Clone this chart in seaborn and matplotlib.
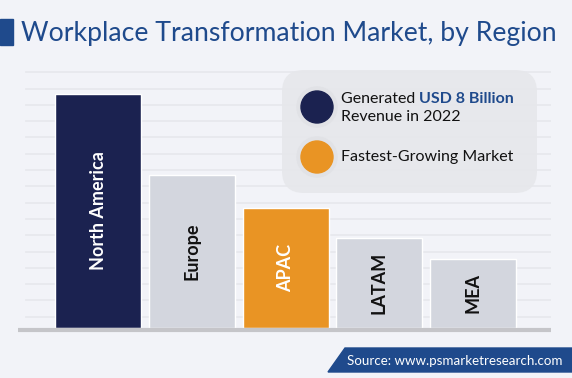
import numpy as np
import pandas as pd
import seaborn as sns
import matplotlib.pyplot as plt
from matplotlib.patches import FancyBboxPatch, Circle, Polygon, Rectangle

regions = ["North America", "Europe", "APAC", "LATAM", "MEA"]
values = [8.0, 5.24, 4.09, 3.07, 2.37]
bar_colors = ["#1B2250", "#D3D6DE", "#E99424", "#D3D6DE", "#D3D6DE"]
label_colors = ["white", "#111111", "white", "#111111", "#111111"]

bg = "#F2F3F8"
blue = "#1F4A8C"

sns.set_theme(style="white")
plt.rcParams['font.family'] = ['Lato', 'DejaVu Sans']

df = pd.DataFrame({"region": regions, "value": values})

fig = plt.figure(figsize=(5.72, 3.78), dpi=100, facecolor=bg)

# bar area: pixels x 18..551, y 60..333
ax = fig.add_axes([18 / 572, 1 - 333 / 378, (551 - 18) / 572, (333 - 60) / 378])
ax.set_facecolor(bg)
sns.barplot(data=df, x="region", y="value", hue="region", palette=bar_colors,
            width=0.917, saturation=1, legend=False, ax=ax, zorder=3)
ax.set_xlim(-0.853, 4.83)
ax.set_ylim(-0.171, 9.16)
ax.set_yticks(-0.171 + 0.557 * np.arange(1, 17))
ax.yaxis.grid(True, color="#E6E7EC", linewidth=1.2)
ax.set_axisbelow(True)
ax.axhline(-0.068, color="#C5C5C9", linewidth=3, zorder=4)
for s in ax.spines.values():
    s.set_visible(False)
ax.set_xticks([])
ax.tick_params(left=False, labelleft=False)
ax.set_xlabel("")
ax.set_ylabel("")

for i, (name, v) in enumerate(zip(regions, values)):
    ax.text(i, v / 2, name, rotation=90, ha="center", va="center",
            fontsize=13, fontweight="bold", color=label_colors[i], zorder=5)

# decoration layer in pixel coordinates
deco = fig.add_axes([0, 0, 1, 1], zorder=10)
deco.set_xlim(0, 572)
deco.set_ylim(378, 0)
deco.axis("off")
deco.patch.set_visible(False)

# hide gridline start left of x=24
deco.add_patch(Rectangle((0, 60), 24, 266, color=bg))

deco.add_patch(Rectangle((0, 19), 13, 26, color=blue))
deco.text(21, 33, "Workplace Transformation Market, by Region", color=blue,
          fontsize=19.2, va="center", ha="left")

deco.add_patch(FancyBboxPatch((282, 70), 255, 123,
                              boxstyle="round,pad=0,rounding_size=22",
                              facecolor="#E6E7EB", edgecolor="none", alpha=0.9))
for cy, col in [(107, "#1B2250"), (157, "#E99424")]:
    deco.add_patch(Circle((317, cy), 20, color="#E1E2E6"))
    deco.add_patch(Circle((317, cy), 16, color=col))

t1 = deco.text(341, 99, "Generated ", fontsize=11.5, color="#111111",
               va="center", ha="left")
deco.annotate("USD 8 Billion", xy=(1, 0), xycoords=t1, fontsize=11.5,
              fontweight="bold", color=blue, va="bottom", ha="left")
deco.text(341, 117, "Revenue in 2022", fontsize=11.5, color="#111111",
          va="center", ha="left")
deco.text(341, 157, "Fastest-Growing Market", fontsize=11.5, color="#111111",
          va="center", ha="left")

deco.add_patch(Polygon([(328, 372), (345, 348), (572, 348), (572, 372)],
                       closed=True, color=blue))
deco.text(347, 361, "Source: www.psmarketresearch.com", color="white",
          fontsize=9.6, va="center", ha="left")

fig.savefig("out.png", dpi=100, facecolor=bg)
